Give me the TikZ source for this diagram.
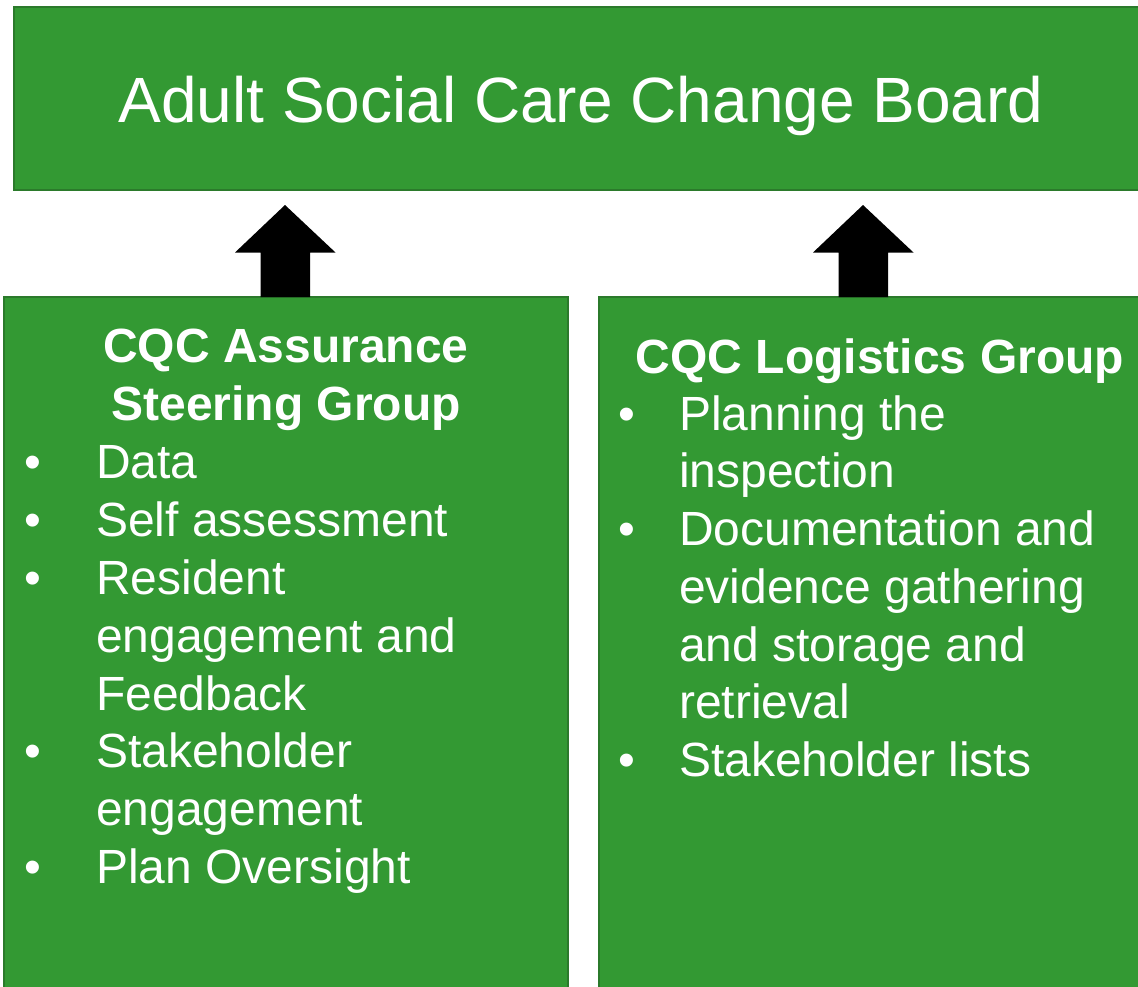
\documentclass[tikz,border=0pt]{standalone}
\usepackage{fontspec}
\setmainfont{Liberation Sans}
\definecolor{boxfill}{HTML}{339933}
\definecolor{boxline}{HTML}{2B7A2B}
\begin{document}
\begin{tikzpicture}[x=1pt,y=-1pt,
  greenbox/.style={fill=boxfill,draw=boxline,line width=2pt},
  titletext/.style={text=white,font=\fontsize{64}{70}\selectfont,inner sep=0pt,anchor=base},
  headtext/.style={text=white,font=\fontsize{48}{57}\selectfont\bfseries,inner sep=0pt,anchor=base},
  itemtext/.style={text=white,font=\fontsize{48}{57}\selectfont,inner sep=0pt,anchor=base west},
  bullettext/.style={text=white,font=\fontsize{48}{57}\selectfont,inner sep=0pt,anchor=base},
  blockarrow/.style={fill=black,draw=none}]
\useasboundingbox (0,0) rectangle (1138,986);
% boxes
\path[greenbox] (14,7) rectangle (1150,190);
\path[greenbox] (4,297) rectangle (568,1000);
\path[greenbox] (599,297) rectangle (1150,1000);
% arrows
\fill[blockarrow] (285,205) -- (335.5,252.5) -- (310,252.5) -- (310,297) -- (260.5,297) -- (260.5,252.5) -- (235,252.5) -- cycle;
\fill[blockarrow] (863,205) -- (913.5,252.5) -- (888,252.5) -- (888,297) -- (838.5,297) -- (838.5,252.5) -- (813,252.5) -- cycle;
% title
\node[titletext] (title) at (581,122) {Adult Social Care Change Board};
% left column
\node[headtext] (lh1) at (286,362) {CQC Assurance};
\node[headtext] (lh2) at (286,420) {Steering Group};
\foreach \n/\y in {b1/478,b2/536,b3/594,b4/767,b5/883}{
  \node[bullettext] (l\n) at (33,\y) {•};
}
\node[itemtext] (l1) at (96,478) {Data};
\node[itemtext] (l2) at (96,536) {Self assessment};
\node[itemtext] (l3) at (96,594) {Resident};
\node[itemtext] (l4) at (96,652) {engagement and};
\node[itemtext] (l5) at (96,710) {Feedback};
\node[itemtext] (l6) at (96,767) {Stakeholder};
\node[itemtext] (l7) at (96,825) {engagement};
\node[itemtext] (l8) at (96,883) {Plan Oversight};
% right column
\node[headtext] (rh1) at (880,373) {CQC Logistics Group};
\foreach \n/\y in {b1/430,b2/545,b3/776}{
  \node[bullettext] (r\n) at (627,\y) {•};
}
\node[itemtext] (r1) at (679,430) {Planning the};
\node[itemtext] (r2) at (679,487) {inspection};
\node[itemtext] (r3) at (679,545) {Documentation and};
\node[itemtext] (r4) at (679,603) {evidence gathering};
\node[itemtext] (r5) at (679,661) {and storage and};
\node[itemtext] (r6) at (679,718) {retrieval};
\node[itemtext] (r7) at (679,776) {Stakeholder lists};
\end{tikzpicture}
\end{document}
